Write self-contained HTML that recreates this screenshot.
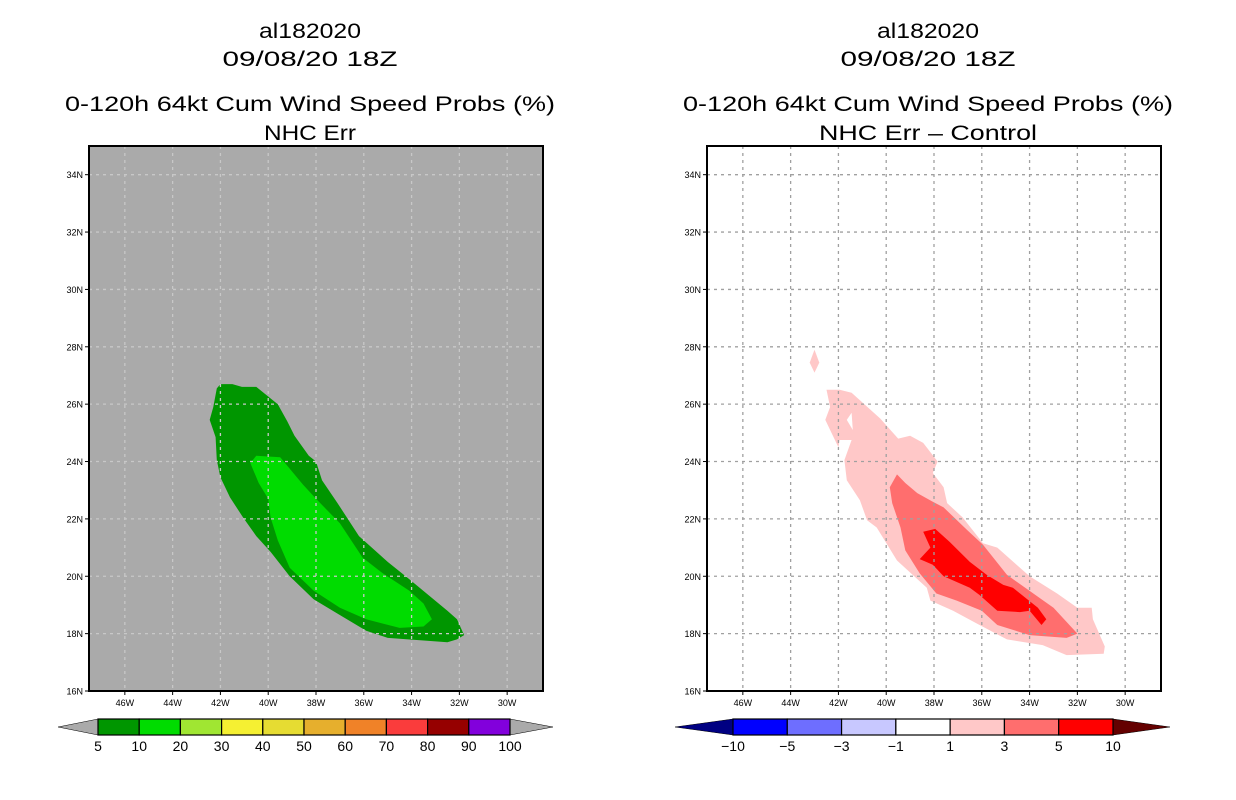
<!DOCTYPE html>
<html><head><meta charset="utf-8"><style>
html,body{margin:0;padding:0;background:#fff;width:1236px;height:800px;overflow:hidden}
text{font-family:"Liberation Sans",sans-serif}
</style></head><body>
<svg id="root" width="1236" height="800" xmlns="http://www.w3.org/2000/svg"></svg>
<script>
// ---- data ----
const lonTicks=[46,44,42,40,38,36,34,32,30];
const latTicks=[34,32,30,28,26,24,22,20,18,16];
const probOuter=[[42.0,26.7],[41.5,26.7],[41.1,26.6],[40.5,26.6],[39.6,26.0],[39.2,25.4],[38.9,24.9],[38.3,24.2],[38.0,24.0],[37.75,23.35],[37.1,22.55],[36.2,21.4],[35.0,20.5],[34.1,19.9],[32.5,18.8],[32.1,18.5],[31.8,17.95],[32.1,17.8],[32.5,17.7],[35.0,17.85],[35.9,18.1],[37.1,18.7],[38.1,19.2],[39.1,20.0],[39.9,20.85],[40.5,21.4],[41.05,22.05],[41.6,22.75],[42.0,23.45],[42.15,24.05],[42.2,24.85],[42.45,25.45],[42.3,25.9],[42.15,26.55]];
const probInner=[[40.5,24.2],[39.5,24.15],[38.55,23.2],[38.0,22.7],[37.0,21.85],[36.05,20.65],[35.2,20.1],[34.1,19.5],[33.5,19.05],[33.15,18.5],[33.5,18.25],[34.5,18.2],[35.9,18.5],[37.0,18.9],[38.1,19.5],[39.1,20.3],[39.6,21.25],[39.9,22.05],[40.0,22.7],[40.4,23.25],[40.75,23.95]];
const diffPink=[[42.5,26.5],[41.95,26.5],[41.45,26.4],[40.25,25.5],[39.5,24.8],[39.0,24.9],[38.45,24.65],[37.85,24.0],[38.05,23.6],[37.6,23.1],[37.45,22.55],[36.8,22.05],[35.95,21.15],[35.35,21.0],[34.0,20.0],[32.85,19.4],[32.0,18.9],[31.4,18.9],[31.35,18.5],[30.85,17.55],[30.9,17.3],[32.45,17.25],[33.45,17.6],[34.95,17.8],[36.2,18.35],[37.2,18.8],[38.15,19.15],[38.3,19.6],[39.55,20.55],[40.4,21.7],[40.8,21.95],[41.1,22.65],[41.65,23.35],[41.75,24.05],[41.45,24.75],[41.95,24.75],[42.0,24.5],[42.55,25.45],[42.35,25.9]];
const diffHole=[[41.65,25.45],[41.45,25.7],[41.4,25.1]];
const diffDiamond=[[43.0,27.9],[42.8,27.45],[43.0,27.1],[43.2,27.45]];
const diffSalmon=[[39.55,23.55],[39.2,23.25],[38.7,22.9],[38.05,22.6],[37.6,22.4],[36.6,21.6],[35.95,21.1],[34.95,20.05],[33.0,18.9],[32.0,18.0],[32.45,17.85],[34.0,17.95],[35.35,18.3],[36.0,18.8],[37.05,19.15],[37.9,19.4],[38.6,20.1],[39.2,20.9],[39.4,21.7],[39.75,22.55],[39.85,23.1]];
const diffRed=[[38.45,21.55],[37.95,21.65],[37.35,21.2],[36.5,20.5],[35.8,20.05],[35.1,19.7],[34.7,19.6],[33.65,18.9],[33.3,18.5],[33.5,18.3],[34.0,18.8],[34.4,18.75],[35.35,18.8],[36.1,19.35],[36.5,19.6],[37.6,20.0],[38.05,20.4],[38.6,20.6],[38.15,21.0]];
const probLevels=["5","10","20","30","40","50","60","70","80","90","100"];
const probColors=["#009600","#00dc00","#a0e632","#f5f032","#e6dc32","#e6af2d","#f08228","#fa3c3c","#960000","#8200dc"];
const diffLevels=["\u221210","\u22125","\u22123","\u22121","1","3","5","10"];
const diffColors=["#0000ff","#6e6eff","#c8c8ff","#ffffff","#ffc8c8","#ff6e6e","#ff0000"];

const NS="http://www.w3.org/2000/svg";
const root=document.getElementById('root');
function mk(tag,attrs,parent){const e=document.createElementNS(NS,tag);for(const k in attrs)e.setAttribute(k,attrs[k]);(parent||root).appendChild(e);return e;}
const LON0=47.5,LON1=28.5,LAT0=16,LAT1=35,PW=454,PH=545,PY=146;
function xs(ox){return lon=>ox+(LON0-lon)/(LON0-LON1)*PW;}
function ys(lat){return PY+(LAT1-lat)/(LAT1-LAT0)*PH;}

function panel(ox,bg,gridCol,title4,t4w,polys,name){
  const g=mk('g',{});
  
  
  const X=xs(ox);
  const cx=ox+PW/2-6;
  const titles=[["al182020",38,102],["09/08/20 18Z",66,175],["0-120h 64kt Cum Wind Speed Probs (%)",111,490],[title4,140,t4w]];
  titles.forEach((t,i)=>{
    const a={x:cx,y:t[1],'text-anchor':'middle','font-size':'21',fill:'#000'};
    if(t[2]){a.textLength=t[2];a.lengthAdjust='spacingAndGlyphs';}
    const tx=mk('text',a,g);tx.textContent=t[0];
    
    
  });
  const bgR=mk('rect',{x:ox,y:PY,width:PW,height:PH,fill:bg},g);
  
  
  polys.forEach(p=>{
    const pts=p.pts.map(q=>X(q[0]).toFixed(1)+','+ys(q[1]).toFixed(1)).join(' ');
    const pg=mk('polygon',{points:pts,fill:p.fill},g);
    
    
  });
  lonTicks.forEach(l=>{
    const x=X(l);
    const ln=mk('line',{x1:x,y1:PY,x2:x,y2:PY+PH,stroke:gridCol,'stroke-width':1.3,'stroke-dasharray':'3,4'},g);
    
    
    mk('line',{x1:x,y1:PY+PH,x2:x,y2:PY+PH+4,stroke:'#000','stroke-width':1},g);
    const t=mk('text',{x:x,y:PY+PH+15,'text-anchor':'middle','font-size':'9',fill:'#000'},g);
    t.textContent=l+'W';
    
    
  });
  latTicks.forEach(l=>{
    const y=ys(l);
    if(l>LAT0){const ln=mk('line',{x1:ox,y1:y,x2:ox+PW,y2:y,stroke:gridCol,'stroke-width':1.3,'stroke-dasharray':'3,4'},g);
    
    }
    mk('line',{x1:ox-4,y1:y,x2:ox,y2:y,stroke:'#000','stroke-width':1},g);
    const t=mk('text',{x:ox-6,y:y+3.5,'text-anchor':'end','font-size':'9',fill:'#000'},g);
    t.textContent=l+'N';
    
    
  });
  const fr=mk('rect',{x:ox,y:PY,width:PW,height:PH,fill:'none',stroke:'#000','stroke-width':2},g);
  
  
}

function colorbar(x0,x1,bx0,bx1,levels,colors,lc,rc,name){
  const g=mk('g',{});
  
  
  const y0=719,y1=735,ym=727;
  mk('polygon',{points:`${x0},${ym} ${bx0},${y0} ${bx0},${y1}`,fill:lc,stroke:'#000','stroke-width':0.5},g);
  mk('polygon',{points:`${x1},${ym} ${bx1},${y0} ${bx1},${y1}`,fill:rc,stroke:'#000','stroke-width':0.5},g);
  const w=(bx1-bx0)/colors.length;
  colors.forEach((c,i)=>{
    const r=mk('rect',{x:bx0+i*w,y:y0,width:w,height:y1-y0,fill:c,stroke:'#000','stroke-width':1.2},g);
    
    
  });
  levels.forEach((l,i)=>{
    const t=mk('text',{x:bx0+i*w,y:751,'text-anchor':'middle','font-size':'14',fill:'#000'},g);
    t.textContent=l;
    
    
  });
}

panel(89,'#aaaaaa','#c8c8c8','NHC Err',92,[
  {pts:probOuter,fill:'#009600',name:'prob-5-10-contour'},
  {pts:probInner,fill:'#00dc00',name:'prob-10-20-contour'}],'left-panel');
panel(707,'#ffffff','#a0a0a0','NHC Err \u2013 Control',218,[
  {pts:diffPink,fill:'#ffc8c8',name:'diff-1-3-contour'},
  {pts:diffHole,fill:'#ffffff',name:'diff-hole'},
  {pts:diffDiamond,fill:'#ffc8c8',name:'diff-small-patch'},
  {pts:diffSalmon,fill:'#ff6e6e',name:'diff-3-5-contour'},
  {pts:diffRed,fill:'#ff0000',name:'diff-5-10-contour'}],'right-panel');
colorbar(58,553,98,510,probLevels,probColors,'#aaaaaa','#aaaaaa','left-colorbar');
colorbar(675,1170,733,1113,diffLevels,diffColors,'#000082','#640000','right-colorbar');
</script>
</body></html>
